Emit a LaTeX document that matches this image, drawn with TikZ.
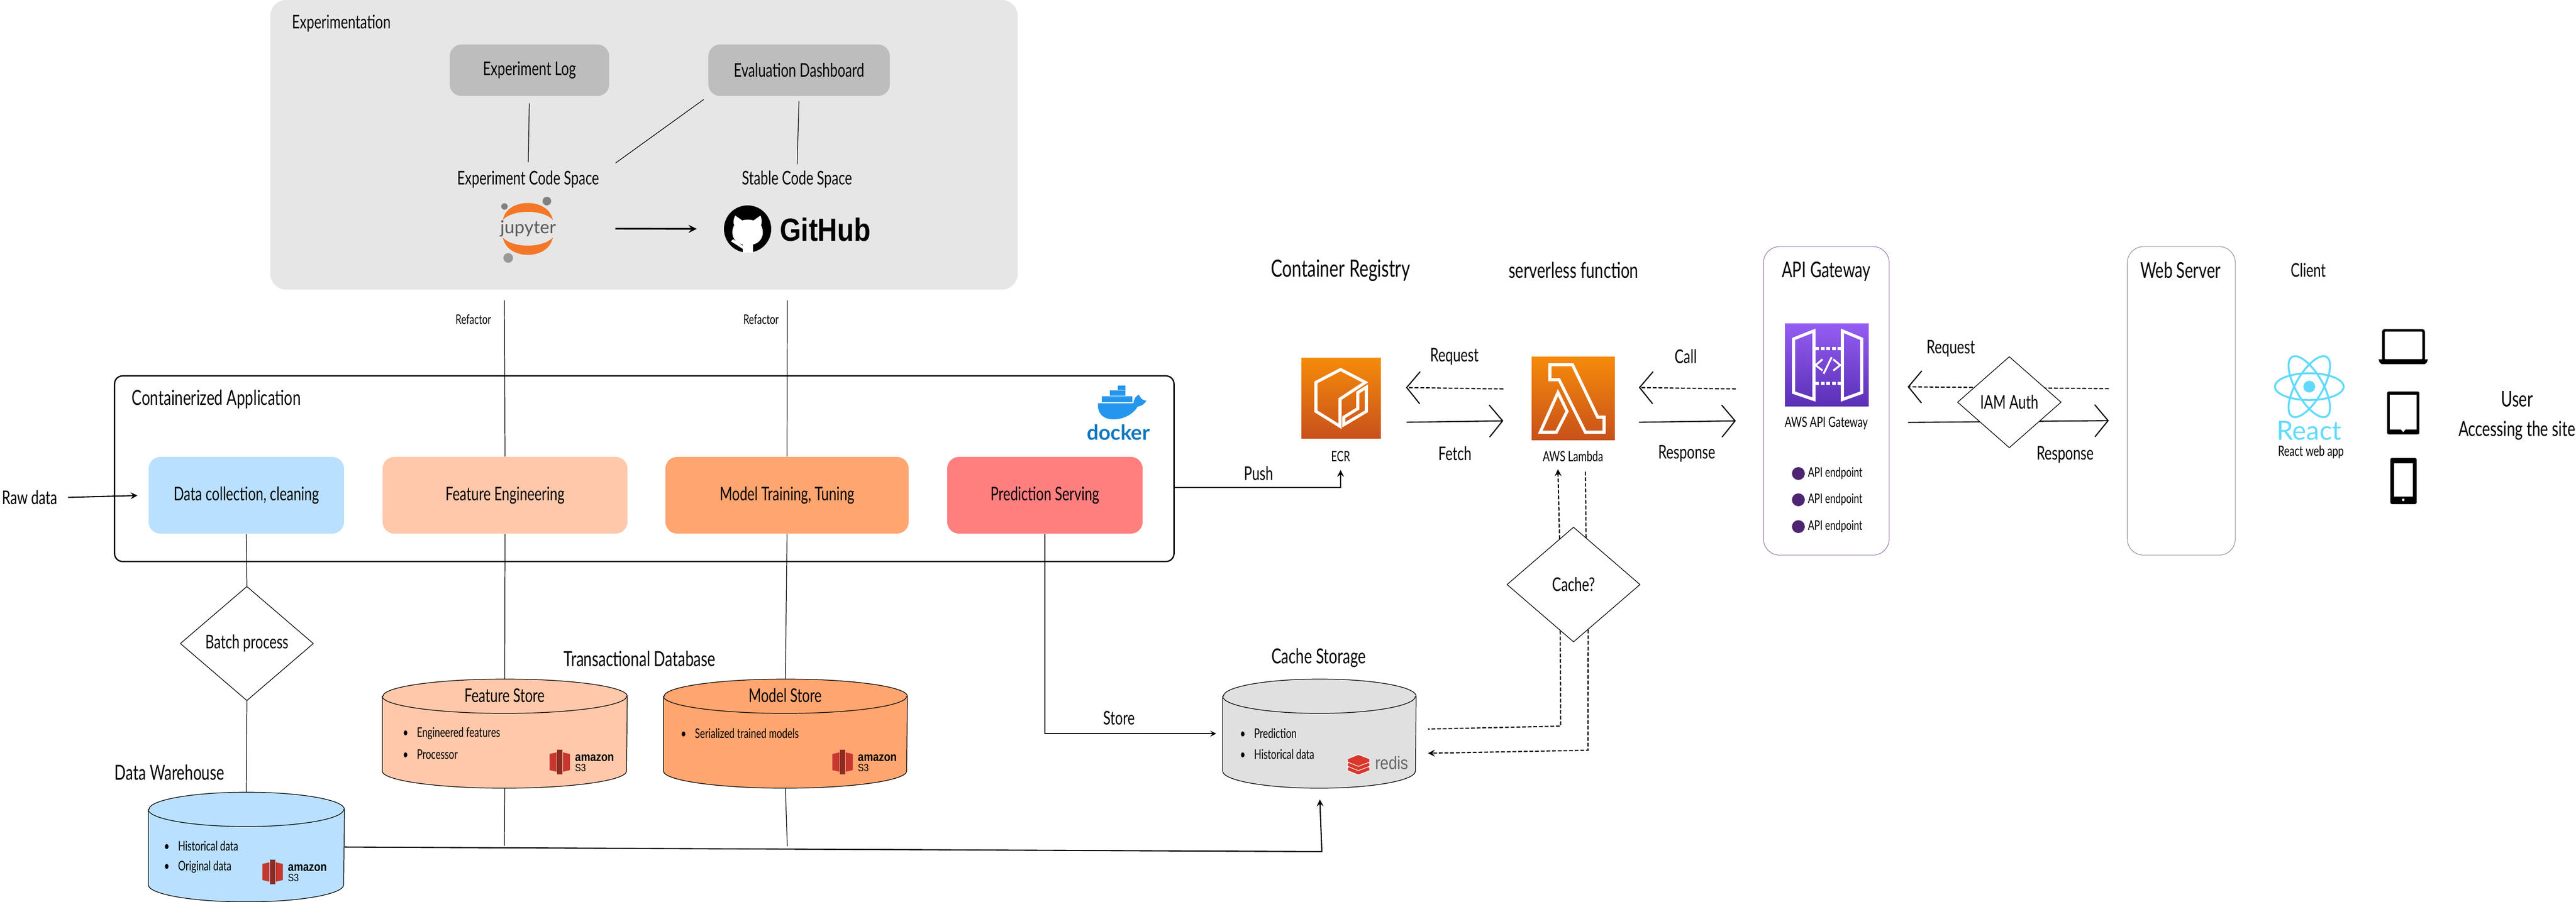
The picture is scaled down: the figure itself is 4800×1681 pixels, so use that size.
\documentclass[tikz,border=0pt]{standalone}
\usepackage{fontspec}
\setmainfont{Lato}[FakeStretch=0.72]
\newfontfamily\logofont{Liberation Sans}[FakeStretch=0.85]
\newfontfamily\plainfont{Lato}
\usetikzlibrary{arrows.meta,shapes.geometric}
\definecolor{panelgray}{HTML}{E6E6E6}
\definecolor{boxgray}{HTML}{BDBDBD}
\definecolor{skyblue}{HTML}{B9E0FF}
\definecolor{peach}{HTML}{FFC8AA}
\definecolor{apricot}{HTML}{FFA570}
\definecolor{coral}{HTML}{FF7F7F}
\definecolor{cachegray}{HTML}{E0E0E0}
\definecolor{jupyterorange}{HTML}{F37726}
\definecolor{dockerblue}{HTML}{2496ED}
\definecolor{dockertext}{HTML}{0F78BE}
\definecolor{sthreered}{HTML}{C7372F}
\definecolor{sthreedark}{HTML}{8C2D25}
\definecolor{redisred}{HTML}{D9382D}
\definecolor{reactblue}{HTML}{61DAFB}
\definecolor{gatewayline}{HTML}{9673A6}
\definecolor{endpoint}{HTML}{4D2570}
\definecolor{awstop}{HTML}{F68A0A}
\definecolor{awsbottom}{HTML}{C8511B}
\definecolor{gatewaytop}{HTML}{945DF2}
\definecolor{gatewaybottom}{HTML}{5A30B5}
\tikzstyle{handxs} = [font=\fontsize{7}{8}\selectfont,inner sep=0pt]
\tikzstyle{handsm} = [font=\fontsize{7.5}{9}\selectfont,inner sep=0pt]
\tikzstyle{handmd} = [font=\fontsize{10}{12}\selectfont,inner sep=0pt]
\tikzstyle{handml} = [font=\fontsize{11}{13}\selectfont,inner sep=0pt]
\tikzstyle{handlg} = [font=\fontsize{11.5}{13}\selectfont,inner sep=0pt]
\tikzstyle{handxl} = [font=\fontsize{12.6}{14}\selectfont,inner sep=0pt]
\tikzstyle{box} = [font=\fontsize{10}{12}\selectfont,rounded corners=0.22cm,inner sep=0pt,minimum height=1.43cm]
\tikzstyle{greybox} = [box,fill=boxgray,minimum height=0.96cm]
\tikzstyle{panel} = [rounded corners=0.3cm,inner sep=0pt,draw,line width=0.3pt,minimum width=2.34cm,minimum height=5.75cm]
\tikzstyle{choice} = [diamond,draw,line width=0.35pt,fill=white,inner sep=0pt,font=\fontsize{10}{12}\selectfont]
\tikzstyle{icon} = [inner sep=0pt,shading=axis,shading angle=0]
\tikzstyle{awsicon} = [icon,top color=awstop,bottom color=awsbottom]
\tikzstyle{hairline} = [line width=0.35pt]
\tikzstyle{arrow} = [->,>=stealth,line width=0.6pt]
\tikzstyle{barb} = [-{Straight Barb[length=7pt,width=17pt]},line width=0.6pt]
\tikzstyle{dashline} = [dash pattern=on 2pt off 1pt]
\tikzstyle{glyph} = [white,line width=1.6pt,line join=miter]
\tikzstyle{dot} = [circle,fill=endpoint,minimum size=0.24cm,inner sep=0pt]
\newcommand{\drum}[6]{
  \node[inner sep=0pt,minimum width=2*#4,minimum height=#5] at (#2,#3) (#1) {};
  \draw[hairline,fill=#6] ([yshift=-0.32cm]#1.north west) -- ([yshift=0.32cm]#1.south west) arc [start angle=180,end angle=360,x radius=#4,y radius=0.32cm] -- ([yshift=-0.32cm]#1.north east) arc [start angle=0,end angle=180,x radius=#4,y radius=0.32cm] -- cycle;
  \draw[hairline] ([yshift=-0.32cm]#1.north west) arc [start angle=180,end angle=360,x radius=#4,y radius=0.32cm];
}
\newcommand{\amazonlogo}[3]{
  \begin{scope}[shift={(#1,#2)}]
    \fill[sthreered] (-19,-15) -- (-6,-18) -- (-6,18) -- (-19,15) -- cycle;
    \fill[sthreered] (19,-15) -- (6,-18) -- (6,18) -- (19,15) -- cycle;
    \fill[sthreedark] (-5,-23) -- (5,-23) -- (5,23) -- (-5,23) -- cycle;
    \node[inner sep=0pt,anchor=west,font=\logofont\bfseries\fontsize{6.5}{7}\selectfont] at (28,-8) (#3amazon) {amazon};
    \node[inner sep=0pt,anchor=west,font=\logofont\fontsize{5.5}{6}\selectfont] at (28,11) (#3sthree) {S3};
  \end{scope}
}
\begin{document}
\begin{tikzpicture}[x=0.01cm,y=-0.01cm]
  \useasboundingbox (0,0) rectangle (4800,1681);

  \node[fill=panelgray,rounded corners=0.3cm,minimum width=13.92cm,minimum height=5.4cm,inner sep=0pt] at (1200,270) (expPanel) {};
  \node[handmd] at (636,44) (expTitle) {Experimentation};
  \node[greybox,minimum width=2.97cm] at (986.5,131) (expLog) {Experiment Log};
  \node[greybox,minimum width=3.38cm] at (1489,131) (evalDash) {Evaluation Dashboard};
  \node[handmd] at (984,335) (expCode) {Experiment Code Space};
  \node[handmd] at (1485,335) (stableCode) {Stable Code Space};
  \coordinate (expCorner) at (1147,304);
  \draw[hairline,shorten <=0.13cm,shorten >=0.16cm] (expLog.south) -- (expCode.north);
  \draw[hairline,shorten <=0.1cm] (evalDash.south west) -- (expCorner);
  \draw[hairline,shorten <=0.09cm,shorten >=0.12cm] (evalDash.south) -- (stableCode.north);

  \fill[jupyterorange] (937,410) .. controls (945,368) and (1022,368) .. (1030,410) .. controls (1012,390) and (955,390) .. cycle;
  \fill[jupyterorange] (937,443) .. controls (945,486) and (1022,486) .. (1030,443) .. controls (1012,463) and (955,463) .. cycle;
  \fill[gray] (1019,375) circle (0.08cm);
  \fill[gray] (940,385) circle (0.06cm);
  \fill[gray!80] (947,481) circle (0.09cm);
  \node[inner sep=0pt,text=black!65,font=\plainfont\fontsize{9.5}{10}\selectfont] at (984,426) (jupyterLogo) {jupyter};
  \node[circle,fill=black,minimum size=0.88cm,inner sep=0pt] at (1393,427) (githubMark) {};
  \fill[white] (1370,402) -- (1383,411) .. controls (1390,409) and (1397,409) .. (1404,411) -- (1417,402) .. controls (1420,410) and (1420,415) .. (1418,420) .. controls (1426,435) and (1420,452) .. (1403,456) -- (1403,471) -- (1384,471) -- (1384,456) .. controls (1366,452) and (1360,435) .. (1368,420) .. controls (1366,415) and (1366,410) .. (1370,402) -- cycle;
  \fill[white] (1362,450) -- (1366,446) -- (1384,458) -- (1384,464) -- cycle;
  \node[inner sep=0pt,font=\logofont\bfseries\fontsize{17}{18}\selectfont] at (1538,428) (githubText) {GitHub};
  \draw[arrow,line width=0.9pt,shorten <=1.1cm,shorten >=0.5cm] (jupyterLogo.east) -- (githubMark.west);

  \node[draw,line width=0.7pt,rounded corners=0.15cm,minimum width=19.73cm,minimum height=3.46cm,inner sep=0pt] at (1200.5,874) (appBox) {};
  \node[handml,anchor=west] at (245,745) (appTitle) {Containerized Application};
  \node[box,fill=skyblue,minimum width=3.64cm] at (459,923.5) (dataBox) {Data collection, cleaning};
  \node[box,fill=peach,minimum width=4.56cm] at (941,923.5) (featBox) {Feature Engineering};
  \node[box,fill=apricot,minimum width=4.53cm] at (1466.5,923.5) (modelBox) {Model Training, Tuning};
  \node[box,fill=coral,minimum width=3.64cm] at (1947,923.5) (predBox) {Prediction Serving};

  \fill[dockerblue] (2046,752) -- (2112,752) .. controls (2113,742) and (2118,738) .. (2122,736) .. controls (2126,742) and (2126,746) .. (2136,747) .. controls (2132,755) and (2124,758) .. (2120,758) .. controls (2110,775) and (2090,782) .. (2075,782) .. controls (2055,782) and (2044,770) .. (2046,752) -- cycle;
  \fill[dockerblue] (2053,739) rectangle (2110,750);
  \fill[dockerblue] (2068,728) rectangle (2097,738);
  \fill[dockerblue] (2083,719) rectangle (2097,727);
  \node[inner sep=0pt,text=dockertext,font=\plainfont\bfseries\fontsize{11}{12}\selectfont] at (2084,806) (dockerText) {docker};

  \node[handmd] at (55,928) (rawData) {Raw data};
  \draw[arrow,shorten <=0.2cm,shorten >=0.2cm] (rawData.east) -- (dataBox.west);

  \node[choice,minimum width=2.48cm,minimum height=2.13cm] at (460,1200) (batchDia) {Batch process};
  \node[handml,anchor=west] at (213,1440) (wareTitle) {Data Warehouse};
  \drum{wareStore}{459}{1579.5}{1.82cm}{2.03cm}{skyblue}
  \node[handml] at (1192,1228) (transTitle) {Transactional Database};
  \drum{featStore}{940.5}{1368}{2.275cm}{2.02cm}{peach}
  \drum{modelStore}{1463.5}{1368}{2.265cm}{2.02cm}{apricot}
  \node[handmd] at (940,1297) (featTitle) {Feature Store};
  \node[handmd] at (1463,1297) (modelTitle) {Model Store};

  \draw[hairline] (dataBox.south) -- (batchDia.north);
  \draw[hairline] (batchDia.south) -- (wareStore.north);
  \coordinate (featTop) at (940,560);
  \coordinate (modelTop) at (1467,560);
  \coordinate (featEnd) at (940,1577);
  \coordinate (modelEnd) at (1467,1578);
  \draw[hairline] (featTop) -- (featBox.north);
  \draw[hairline] (modelTop) -- (modelBox.north);
  \draw[hairline] (featBox.south) -- (featStore.north);
  \draw[hairline] (modelBox.south) -- (modelStore.north);
  \draw[hairline] (featStore.south) -- (featEnd);
  \draw[hairline] (modelStore.south) -- (modelEnd);
  \node[handxs] at (882,596) (refactorA) {Refactor};
  \node[handxs] at (1418,596) (refactorB) {Refactor};

  \node[handxs,anchor=west] at (305,1578) (wareItemA) {•\hspace{4.5pt}Historical data};
  \node[handxs,anchor=west] at (305,1617) (wareItemB) {•\hspace{4.5pt}Original data};
  \amazonlogo{508}{1626}{ware}
  \node[handxs,anchor=west] at (750,1368) (featItemA) {•\hspace{4.5pt}Engineered features};
  \node[handxs,anchor=west] at (750,1407) (featItemB) {•\hspace{4.5pt}Processor};
  \amazonlogo{1043}{1421}{feat}
  \node[handxs,anchor=west] at (1268,1368) (modelItemA) {•\hspace{4.5pt}Serialized trained models};
  \amazonlogo{1570}{1421}{model}

  \drum{cacheStore}{2458.5}{1368}{1.795cm}{2.02cm}{cachegray}
  \node[handml] at (2457,1227) (cacheTitle) {Cache Storage};
  \node[handxs,anchor=west] at (2310,1368) (cacheItemA) {•\hspace{4.5pt}Prediction};
  \node[handxs,anchor=west] at (2310,1407) (cacheItemB) {•\hspace{4.5pt}Historical data};
  \fill[redisred,draw=white,line width=0.3pt] (2511,1431) -- (2531,1423) -- (2552,1431) -- (2552,1437) -- (2531,1445) -- (2511,1437) -- cycle;
  \fill[redisred,draw=white,line width=0.3pt] (2511,1423) -- (2531,1415) -- (2552,1423) -- (2552,1429) -- (2531,1437) -- (2511,1429) -- cycle;
  \fill[redisred,draw=white,line width=0.3pt] (2511,1415) -- (2531,1407) -- (2552,1415) -- (2552,1421) -- (2531,1429) -- (2511,1421) -- cycle;
  \node[inner sep=0pt,text=black!60,font=\logofont\fontsize{9.5}{10}\selectfont] at (2593,1423) (redisText) {redis};

  \node[handmd] at (2085,1339) (storeLbl) {Store};
  \draw[arrow,line width=0.4pt,shorten >=0.12cm] (predBox.south) |- (cacheStore.west);
  \coordinate (mainBend) at (2463,1588);
  \draw[arrow,shorten >=0.21cm] (wareStore.east) -- (mainBend) -- (cacheStore.south);

  \node[handxl] at (2498,504) (ecrTitle) {Container Registry};
  \node[handlg] at (2932,504) (lambdaTitle) {serverless function};
  \node[awsicon,minimum width=1.48cm,minimum height=1.49cm] at (2499,742.5) (ecrIcon) {};
  \draw[glyph] (2497,795) -- (2452,767) -- (2452,713) -- (2498,689) -- (2544,713) -- (2497,744) -- cycle;
  \draw[glyph] (2504,792) -- (2546,767) -- (2546,722) -- (2530,732) -- (2530,762) -- (2504,778) -- cycle;
  \node[awsicon,minimum width=1.55cm,minimum height=1.54cm] at (2931.5,743) (lambdaIcon) {};
  \draw[glyph] (2888,680) -- (2930,680) -- (2977,778) -- (2989,778) -- (2989,806) -- (2954,806) -- (2905,708) -- (2888,708) -- cycle;
  \draw[glyph] (2903,732) -- (2920,767) -- (2900,806) -- (2870,806) -- cycle;
  \node[handsm] at (2498,851) (ecrLbl) {ECR};
  \node[handsm] at (2931,851) (lambdaLbl) {AWS Lambda};

  \draw[arrow,shorten >=0.15cm] ([yshift=-0.35cm]appBox.east) -| (ecrLbl.south);
  \node[handmd] at (2345,883) (pushLbl) {Push};

  \node[panel,draw=gatewayline] at (3403,747.5) (apiPanel) {};
  \node[panel,draw=black!45,minimum width=2.01cm] at (4064.5,747.5) (webPanel) {};
  \node[handlg] at (3403,506) (apiTitle) {API Gateway};
  \node[handlg] at (4063,504) (webTitle) {Web Server};
  \node[handmd] at (4301,504) (clientTitle) {Client};
  \node[icon,top color=gatewaytop,bottom color=gatewaybottom,minimum width=1.56cm,minimum height=1.53cm] at (3404,680.5) (apiIcon) {};
  \draw[glyph] (3380,617) -- (3342,632) -- (3342,732) -- (3380,745) -- cycle;
  \draw[glyph] (3433,617) -- (3469,632) -- (3469,732) -- (3433,745) -- cycle;
  \draw[white,line width=1.6pt,dash pattern=on 2pt off 1pt] (3382,650) -- (3431,650);
  \draw[white,line width=1.6pt,dash pattern=on 2pt off 1pt] (3382,715) -- (3431,715);
  \draw[white,line width=1pt] (3396,670) -- (3383,681) -- (3396,691);
  \draw[white,line width=1pt] (3416,670) -- (3429,681) -- (3416,691);
  \draw[white,line width=1pt] (3413,666) -- (3398,697);
  \node[handsm] at (3403,789) (apiLbl) {AWS API Gateway};
  \node[dot] at (3351,883) (epDotA) {};
  \node[dot] at (3351,932) (epDotB) {};
  \node[dot] at (3351,982) (epDotC) {};
  \node[handxs,anchor=west] at (3368,883) (epTextA) {API endpoint};
  \node[handxs,anchor=west] at (3368,932) (epTextB) {API endpoint};
  \node[handxs,anchor=west] at (3368,982) (epTextC) {API endpoint};

  \node[handmd] at (2710,665) (reqLbl) {Request};
  \node[handmd] at (2711,846) (fetchLbl) {Fetch};
  \node[handmd] at (3141,665) (callLbl) {Call};
  \node[handmd] at (3143,846) (respLbl) {Response};
  \draw[barb,dashline,shorten <=0.52cm,shorten >=0.46cm] ([yshift=0.17cm]lambdaIcon.west) -- ([yshift=0.205cm]ecrIcon.east);
  \draw[barb,shorten <=0.47cm,shorten >=0.52cm] ([yshift=-0.455cm]ecrIcon.east) -- ([yshift=-0.41cm]lambdaIcon.west);
  \draw[barb,dashline,shorten <=0.51cm,shorten >=0.44cm] ([yshift=0.215cm]apiPanel.west) -- ([yshift=0.21cm]lambdaIcon.east);
  \draw[barb,shorten <=0.44cm,shorten >=0.51cm] ([yshift=-0.45cm]lambdaIcon.east) -- ([yshift=-0.365cm]apiPanel.west);

  \draw[barb,dashline,shorten <=0.34cm,shorten >=0.34cm] ([yshift=0.225cm]webPanel.west) -- ([yshift=0.265cm]apiPanel.east);
  \draw[barb,shorten <=0.35cm,shorten >=0.34cm] ([yshift=-0.405cm]apiPanel.east) -- ([yshift=-0.365cm]webPanel.west);
  \node[choice,minimum width=1.93cm,minimum height=1.7cm] at (3744,750) (iamDia) {IAM Auth};
  \node[handmd] at (3635,650) (gwReqLbl) {Request};
  \node[handmd] at (3848,848) (gwRespLbl) {Response};

  \node[choice,minimum width=2.48cm,minimum height=2.14cm] at (2932,1090) (cacheDia) {Cache?};
  \coordinate (lambdaUp) at (2903,875);
  \coordinate (lambdaDown) at (2954,877);
  \coordinate (hitBend) at (2908,1354);
  \coordinate (missBend) at (2959,1399);
  \draw[arrow,dashline] (cacheDia.107) -- (lambdaUp);
  \draw[line width=0.6pt,dashline] (cacheDia.75) -- (lambdaDown);
  \draw[line width=0.6pt,dashline,shorten >=0.22cm] (cacheDia.254) -- (hitBend) -- ([yshift=0.08cm]cacheStore.east);
  \draw[arrow,dashline,shorten >=0.22cm] (cacheDia.288) -- (missBend) -- ([yshift=-0.37cm]cacheStore.east);

  \draw[reactblue,line width=1pt] (4303,721) ellipse [x radius=0.64cm,y radius=0.25cm];
  \draw[reactblue,line width=1pt,rotate around={60:(4303,721)}] (4303,721) ellipse [x radius=0.64cm,y radius=0.25cm];
  \draw[reactblue,line width=1pt,rotate around={-60:(4303,721)}] (4303,721) ellipse [x radius=0.64cm,y radius=0.25cm];
  \fill[reactblue] (4303,721) circle (0.11cm);
  \node[inner sep=0pt,text=reactblue,font=\plainfont\fontsize{14}{15}\selectfont] at (4303,803) (reactText) {React};
  \node[handsm] at (4306,843) (reactLbl) {React web app};

  \draw[line width=1.4pt,rounded corners=0.03cm] (4441,616) rectangle (4516,672);
  \fill[black] (4432,670) -- (4524,670) -- (4522,676) -- (4518,679) -- (4438,679) -- (4434,676) -- cycle;
  \fill[black,rounded corners=0.03cm] (4448,730) rectangle (4508,810);
  \fill[white] (4453,736) rectangle (4503,801);
  \fill[white] (4474,801) -- (4482,801) -- (4478,806) -- cycle;
  \fill[black,rounded corners=0.03cm] (4454,854) rectangle (4503,940);
  \fill[white] (4461,864) rectangle (4496,926);
  \fill[white] (4478,932) circle (0.025cm);

  \node[handlg] at (4690,744) (userLbl) {User};
  \node[handml] at (4690,803) (accessLbl) {Accessing the site};
\end{tikzpicture}
\end{document}
